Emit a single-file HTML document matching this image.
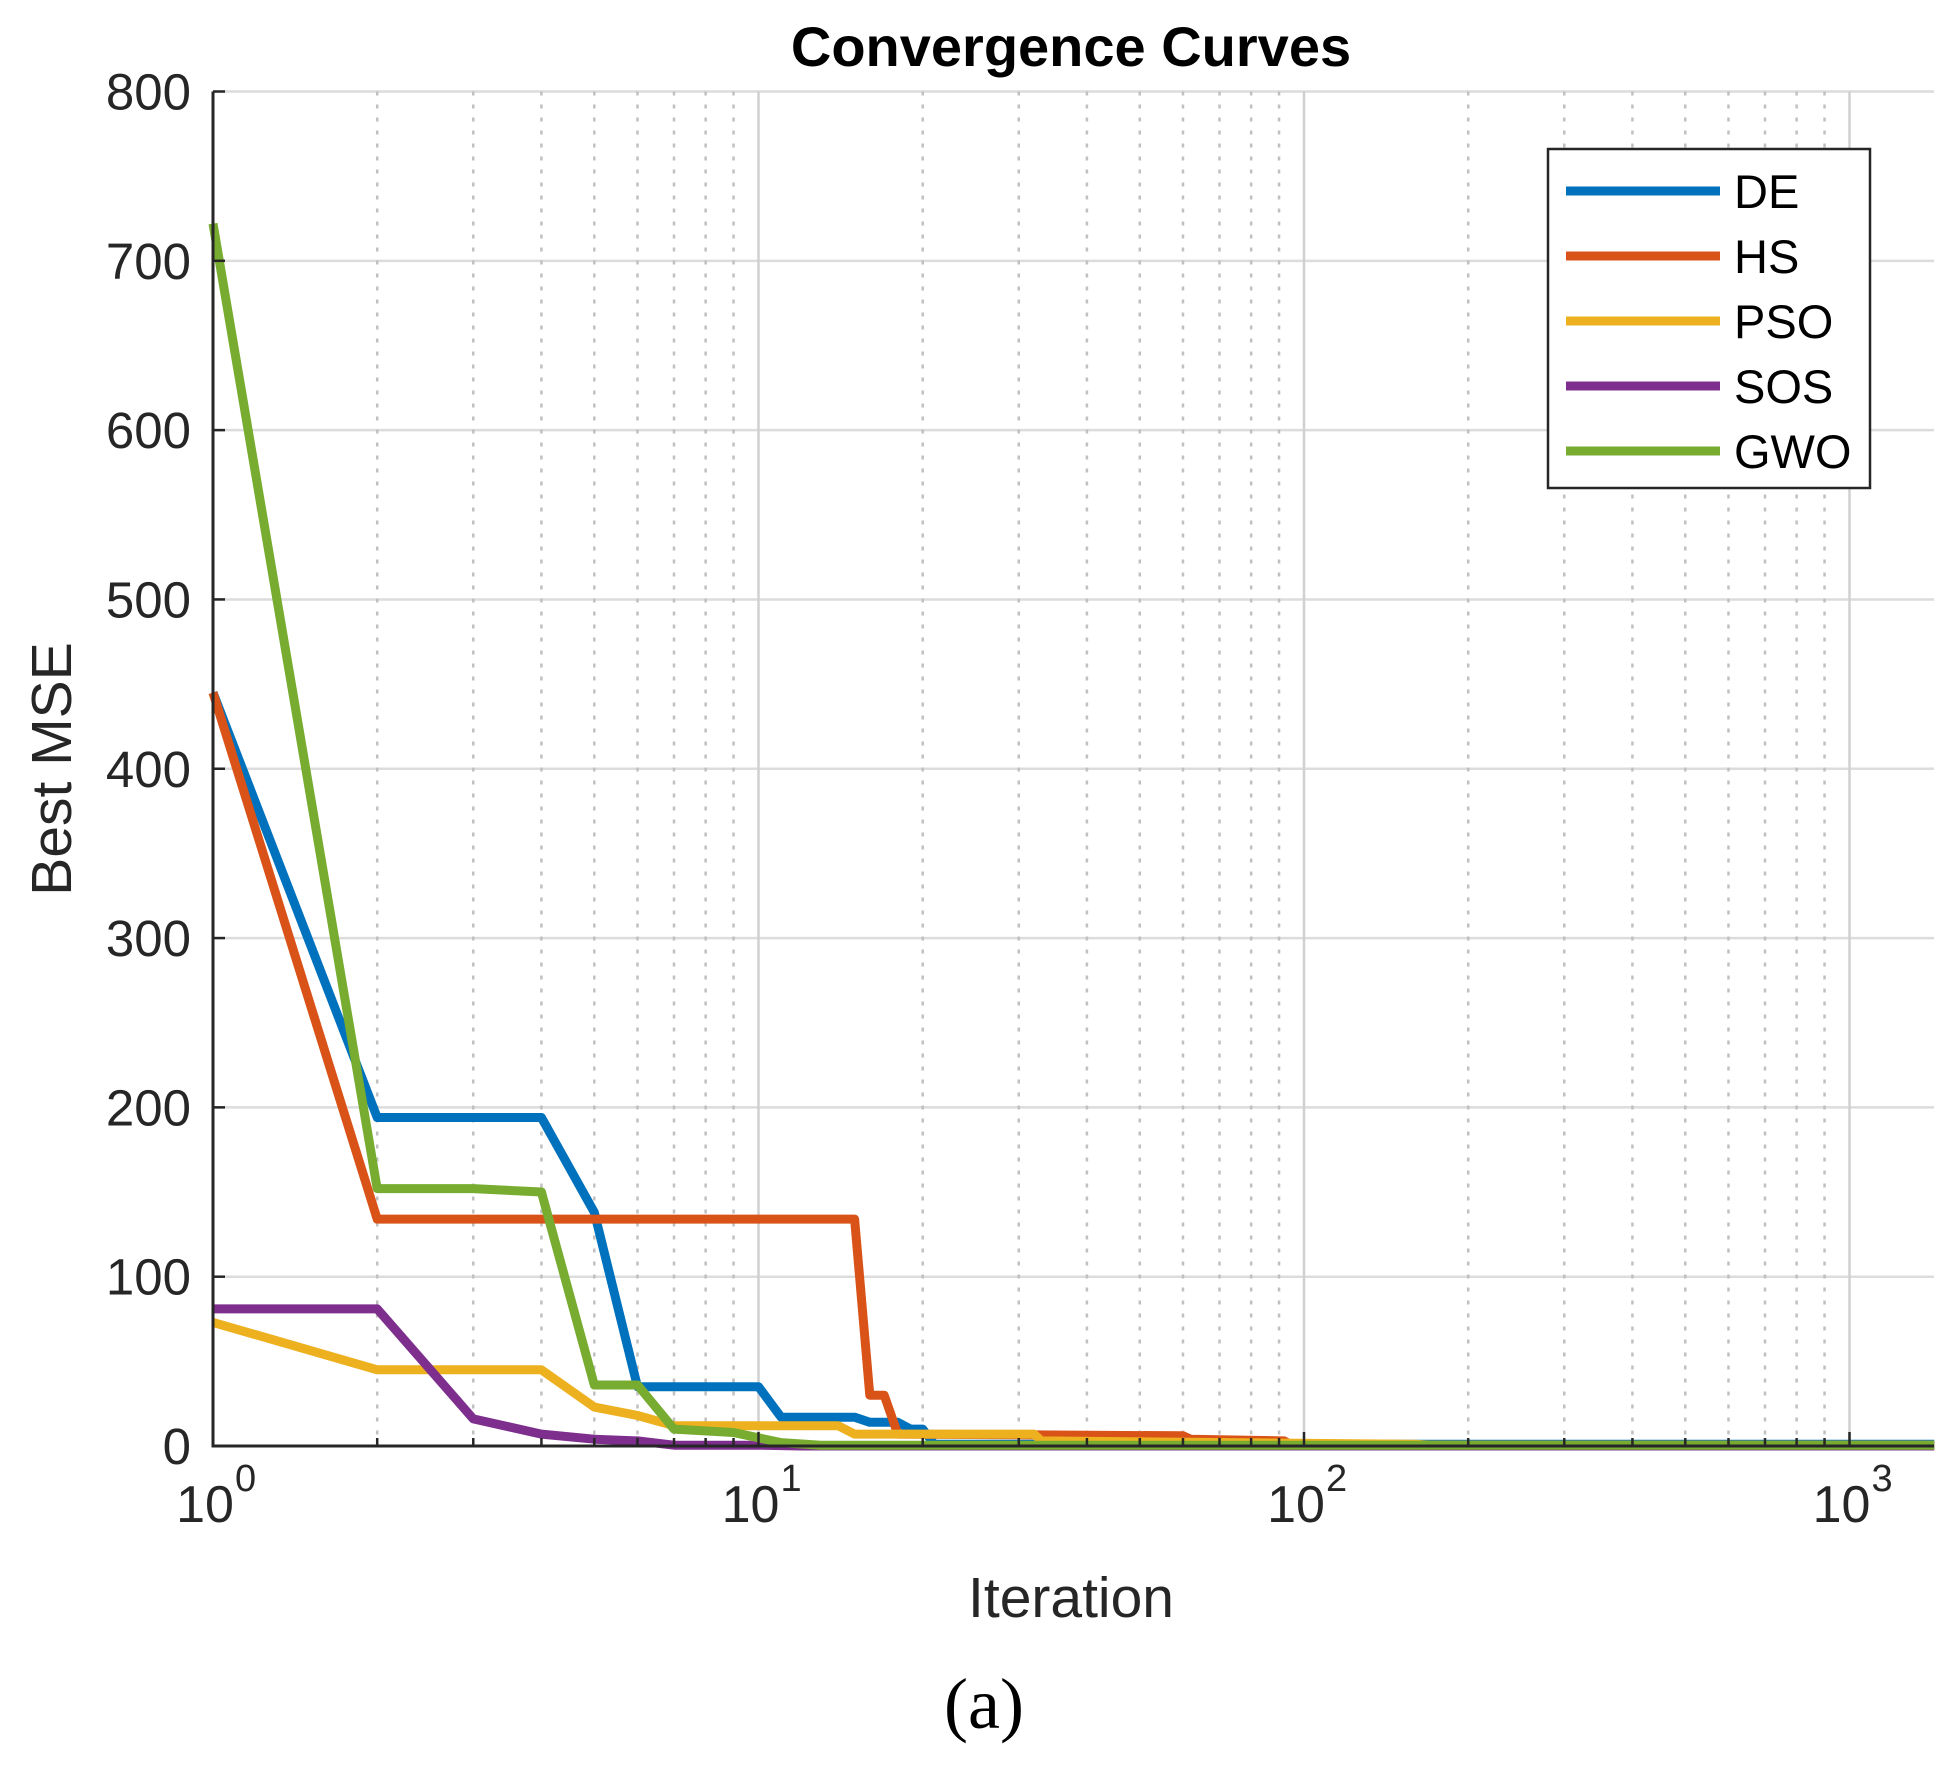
<!DOCTYPE html>
<html><head><meta charset="utf-8"><style>
body{margin:0;background:#fff;}
svg text{font-family:"Liberation Sans",Arial,sans-serif;}
</style></head><body>
<svg id="chart" width="1956" height="1770" viewBox="0 0 1956 1770" xmlns="http://www.w3.org/2000/svg">
<g id="grid"></g>
<g id="series"></g>
<g id="axes"></g>
<text x="1071" y="66" text-anchor="middle" font-size="56" font-weight="bold">Convergence Curves</text>
<text x="1071" y="1617" text-anchor="middle" font-size="57" fill="#262626">Iteration</text>
<text transform="translate(71,769) rotate(-90)" text-anchor="middle" font-size="57" fill="#262626">Best MSE</text>
<text x="984" y="1728" text-anchor="middle" font-size="72" style="font-family:'Liberation Serif',serif">(a)</text>
<g id="legend"></g>
</svg>
<script>
const seriesNames = ["DE","HS","PSO","SOS","GWO"];
const seriesColors = ["#0072BD","#D95319","#EDB120","#7E2F8E","#77AC30"];
const deX = [1,2,4,5,6,10,11,15,16,18,19,20,21,1430];
const deY = [445,194,194,138,35,35,17,17,14,14,10,10,1,1];
const hsX = [1,2,15,16,17,18,60,62,92,95,1430];
const hsY = [445,134,134,30,30,7,6,4,3,0.5,0.5];
const psoX = [1,2,4,5,6,7,14,15,32,33,160,170,1430];
const psoY = [73,45,45,23,18,12,12,7,7,3,1,0.5,0.5];
const sosX = [1,2,3,4,5,6,7,10,12,1430];
const sosY = [81,81,16,7,4,3,0.5,0.5,0,0];
const gwoX = [1,2,3,4,5,6,7,9,11,13,1430];
const gwoY = [722,152,152,150,36,36,10,8,2,0.5,0.5];
const yTicks = [0,100,200,300,400,500,600,700,800];
const xDecades = [0,1,2,3];
const xMax = 1430;

const L=213,R=1934,T=91.5,B=1446,DEC=545.5;
const NS="http://www.w3.org/2000/svg";
function xs(v){return L+Math.log10(v)*DEC;}
function ys(v){return B-(v/800)*(B-T);}
function mk(tag,attrs,parent){const e=document.createElementNS(NS,tag);for(const k in attrs)e.setAttribute(k,attrs[k]);parent.appendChild(e);return e;}
const grid=document.getElementById('grid'),axes=document.getElementById('axes'),ser=document.getElementById('series'),leg=document.getElementById('legend');

yTicks.forEach(t=>{
  const g=mk('line',{x1:L,x2:R,y1:ys(t),y2:ys(t),stroke:'#dcdcdc','stroke-width':2.5},grid);
  
  
  const tk=mk('line',{x1:L,x2:L+12,y1:ys(t),y2:ys(t),stroke:'#262626','stroke-width':2.5},axes);
  
  
  const lb=mk('text',{x:L-22,y:ys(t)+18,'text-anchor':'end','font-size':51,fill:'#262626'},axes);
  lb.textContent=t;
  
  
});
xDecades.forEach(d=>{
  for(let m=1;m<=9;m++){
    const v=m*Math.pow(10,d); if(v>xMax) break;
    const x=xs(v);
    const attrs=m===1?{stroke:'#d0d0d0','stroke-width':2.5}:{stroke:'#c0c0c0','stroke-width':2.5,'stroke-dasharray':'4,9'};
    if(!(m===1&&d===0)){
      const g=mk('line',Object.assign({x1:x,x2:x,y1:T,y2:B},attrs),grid);
      
      
    }
    const tk=mk('line',{x1:x,x2:x,y1:B,y2:B-(m===1?14:8),stroke:'#262626','stroke-width':2.5},axes);
    
    
  }
  const lb=mk('text',{x:xs(Math.pow(10,d))-8,y:1522,'text-anchor':'middle','font-size':52,fill:'#262626'},axes);
  lb.textContent='10';
  
  
  const ex=mk('text',{x:xs(Math.pow(10,d))+22,y:1491,'font-size':38,fill:'#262626'},axes);
  ex.textContent=String(d);
  
  
});
const ax=mk('path',{d:`M${L},${T} L${L},${B} L${R},${B}`,fill:'none',stroke:'#262626','stroke-width':3},axes);



const allX=[deX,hsX,psoX,sosX,gwoX],allY=[deY,hsY,psoY,sosY,gwoY];
allX.forEach((X,i)=>{
  const d=X.map((x,j)=>(j?'L':'M')+xs(x).toFixed(1)+','+ys(allY[i][j]).toFixed(1)).join(' ');
  const p=mk('path',{d:d,fill:'none',stroke:seriesColors[i],'stroke-width':9,'stroke-linejoin':'round'},ser);
  
  
});

const box=mk('rect',{x:1548,y:149,width:322,height:339,fill:'#fff',stroke:'#262626','stroke-width':2.5},leg);


seriesNames.forEach((n,i)=>{
  const y=191+i*65;
  const ln=mk('line',{x1:1566,x2:1720,y1:y,y2:y,stroke:seriesColors[i],'stroke-width':9},leg);
  
  
  const t=mk('text',{x:1734,y:y+17,'font-size':47,fill:'#000'},leg);
  t.textContent=n;
  
  
});
</script>
</body></html>
